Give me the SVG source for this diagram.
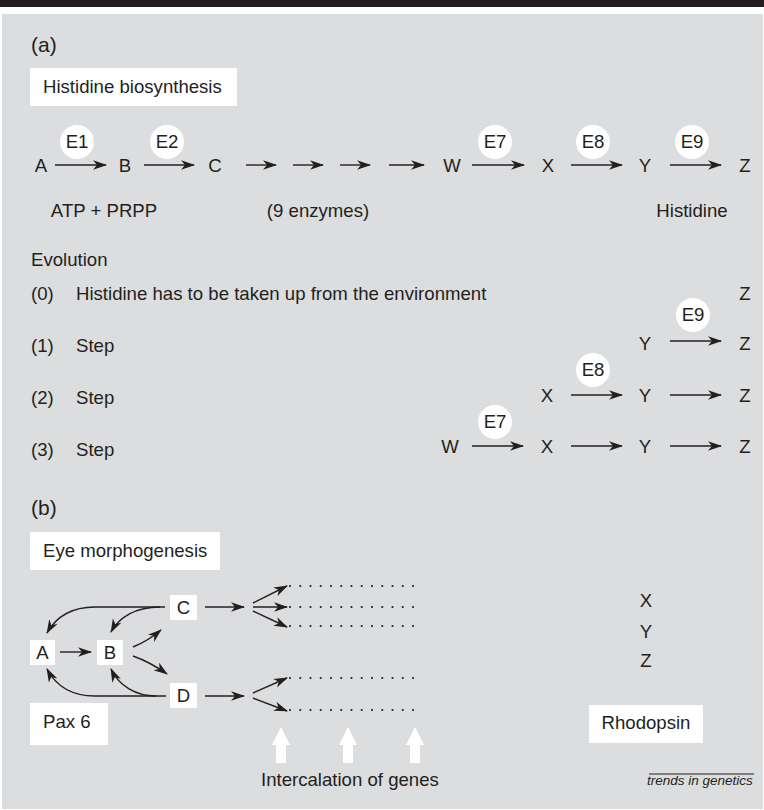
<svg xmlns="http://www.w3.org/2000/svg" width="764" height="810" viewBox="0 0 764 810">
<style>
text{font-family:"Liberation Sans",Arial,sans-serif;fill:#231f20;font-size:18.6px}
.c{text-anchor:middle}
.box{fill:#fff}
.enz{fill:#fff}
.ln{stroke:#231f20;stroke-width:1.4;fill:none;marker-end:url(#ah)}
.dot{stroke:#231f20;stroke-width:2.2;stroke-linecap:round;stroke-dasharray:0 10.25;fill:none}
.blk{fill:#fff}
</style>
<defs>
<marker id="ah" markerUnits="userSpaceOnUse" markerWidth="15" markerHeight="10" refX="13" refY="4.75" orient="auto">
<path d="M0,0 L14,4.75 L0,9.5 L4,4.75 Z" fill="#231f20"/>
</marker>
</defs>
<rect x="0" y="0" width="764" height="810" fill="#fff"/>
<rect x="0" y="0" width="764" height="7" fill="#231f20"/>
<rect x="2" y="14" width="761" height="795" fill="#dcdddf"/>

<text x="31" y="52" style="font-size:21px">(a)</text>
<g id="title-a"><rect class="box" x="30" y="68" width="207" height="38"/><text x="43" y="93">Histidine biosynthesis</text></g>

<g id="pathway-nodes">
<text class="c" x="41" y="172">A</text>
<text class="c" x="125" y="172">B</text>
<text class="c" x="215" y="172">C</text>
<text class="c" x="452" y="172">W</text>
<text class="c" x="548" y="172">X</text>
<text class="c" x="645" y="172">Y</text>
<text class="c" x="745" y="172">Z</text>
</g>
<g id="enzymes-a">
<circle class="enz" cx="77" cy="142" r="17"/><text class="c" x="77" y="148">E1</text>
<circle class="enz" cx="167" cy="142" r="17"/><text class="c" x="167" y="148">E2</text>
<circle class="enz" cx="495" cy="142" r="17"/><text class="c" x="495" y="148">E7</text>
<circle class="enz" cx="593" cy="142" r="17"/><text class="c" x="593" y="148">E8</text>
<circle class="enz" cx="692" cy="142" r="17"/><text class="c" x="692" y="148">E9</text>
</g>
<g id="labels-a">
<text class="c" x="104" y="217">ATP + PRPP</text>
<text class="c" x="318" y="217">(9 enzymes)</text>
<text class="c" x="692" y="217">Histidine</text>
<text x="31" y="266">Evolution</text>
<text x="31" y="300">(0)</text><text x="76" y="300">Histidine has to be taken up from the environment</text>
<text x="31" y="352">(1)</text><text x="76" y="352">Step</text>
<text x="31" y="404">(2)</text><text x="76" y="404">Step</text>
<text x="31" y="456">(3)</text><text x="76" y="456">Step</text>
</g>
<g id="evo-rows">
<text class="c" x="745" y="300">Z</text>
<text class="c" x="645" y="350">Y</text><text class="c" x="745" y="350">Z</text>
<circle class="enz" cx="693" cy="315" r="17"/><text class="c" x="693" y="321">E9</text>
<text class="c" x="547" y="402">X</text><text class="c" x="645" y="402">Y</text><text class="c" x="745" y="402">Z</text>
<circle class="enz" cx="593" cy="370" r="17"/><text class="c" x="593" y="376">E8</text>
<text class="c" x="450" y="453">W</text><text class="c" x="547" y="453">X</text><text class="c" x="645" y="453">Y</text><text class="c" x="745" y="453">Z</text>
<circle class="enz" cx="495" cy="422" r="17"/><text class="c" x="495" y="428">E7</text>
</g>

<g id="connectors-a">
<line class="ln" x1="55" y1="165" x2="106" y2="165"/>
<line class="ln" x1="144" y1="165" x2="194" y2="165"/>
<line class="ln" x1="246" y1="165" x2="276" y2="165"/>
<line class="ln" x1="293" y1="165" x2="323" y2="165"/>
<line class="ln" x1="340" y1="165" x2="370" y2="165"/>
<line class="ln" x1="389" y1="165" x2="424" y2="165"/>
<line class="ln" x1="472" y1="165" x2="524" y2="165"/>
<line class="ln" x1="571" y1="165" x2="622" y2="165"/>
<line class="ln" x1="670" y1="165" x2="721" y2="165"/>
<line class="ln" x1="670" y1="341" x2="721" y2="341"/>
<line class="ln" x1="571" y1="395" x2="622" y2="395"/>
<line class="ln" x1="670" y1="395" x2="721" y2="395"/>
<line class="ln" x1="472" y1="446" x2="523" y2="446"/>
<line class="ln" x1="571" y1="446" x2="622" y2="446"/>
<line class="ln" x1="670" y1="446" x2="721" y2="446"/>
</g>

<text x="31" y="515" style="font-size:21px">(b)</text>
<g id="title-b"><rect class="box" x="30" y="532" width="190" height="38"/><text x="43" y="557">Eye morphogenesis</text></g>

<g id="node-A"><rect class="box" x="30" y="640" width="25" height="25"/><text class="c" x="42.5" y="659">A</text></g>
<g id="node-B"><rect class="box" x="97" y="640" width="26" height="25"/><text class="c" x="110" y="659">B</text></g>
<g id="node-C"><rect class="box" x="170" y="595" width="27" height="25"/><text class="c" x="183.5" y="614">C</text></g>
<g id="node-D"><rect class="box" x="170" y="683" width="27" height="25"/><text class="c" x="183.5" y="702">D</text></g>
<g id="pax6"><rect class="box" x="30" y="703" width="78" height="42"/><text x="43" y="728">Pax 6</text></g>
<g id="rhodopsin-genes">
<text class="c" x="646" y="607">X</text>
<text class="c" x="646" y="638">Y</text>
<text class="c" x="646" y="667">Z</text>
</g>
<g id="rhodopsin"><rect class="box" x="589" y="705" width="114" height="38"/><text class="c" x="646" y="729">Rhodopsin</text></g>

<g id="connectors-b">
<line class="ln" x1="60" y1="652" x2="91" y2="652"/>
<path class="ln" d="M133,647 Q148,641 161,630"/>
<path class="ln" d="M133,656 Q150,662 167,674"/>
<path class="ln" d="M165,607 L95,607 C72,607 56,617 47,633"/>
<path class="ln" d="M160,607 C136,607 119,617 111,632"/>
<path class="ln" d="M166,696 L95,696 C72,696 56,686 47,669"/>
<path class="ln" d="M156,696 C136,696 119,686 111,669"/>
<line class="ln" x1="205" y1="607" x2="244" y2="607"/>
<line class="ln" x1="205" y1="696" x2="244" y2="696"/>
<line class="ln" x1="253" y1="603" x2="287" y2="586"/>
<line class="ln" x1="253" y1="607" x2="287" y2="607"/>
<line class="ln" x1="253" y1="611" x2="287" y2="627"/>
<line class="ln" x1="253" y1="693" x2="287" y2="678"/>
<line class="ln" x1="253" y1="698" x2="287" y2="711"/>
<path class="dot" d="M290,586 H414 M290,607 H414 M290,626 H414 M290,678 H414 M290,710 H414"/>
</g>

<g id="intercalation">
<polygon class="blk" points="281,727 290,745 286,745 286,763 276,763 276,745 272,745"/>
<polygon class="blk" points="348,727 357,745 353,745 353,763 343,763 343,745 339,745"/>
<polygon class="blk" points="415,727 424,745 420,745 420,763 410,763 410,745 406,745"/>
<text x="261" y="786">Intercalation of genes</text>
</g>
<g id="credit">
<line x1="649" y1="774" x2="754" y2="774" stroke="#231f20" stroke-width="1"/>
<text x="647" y="785" style="font-size:13.5px;font-style:italic">trends in genetics</text>
</g>
</svg>
